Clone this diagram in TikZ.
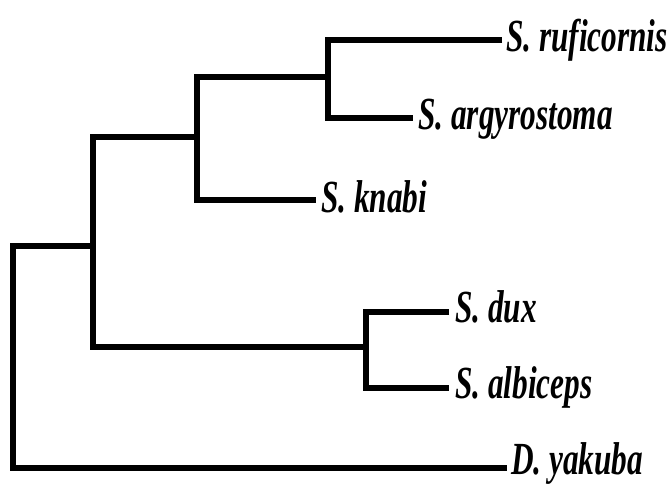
\documentclass[tikz,border=0pt]{standalone}
\usepackage{fontspec}
\setmainfont{Liberation Serif}[FakeStretch=0.68]
\begin{document}
\begin{tikzpicture}[x=1pt,y=-1pt,
  branch/.style={line width=6.8pt, line join=miter, line cap=butt},
  taxon/.style={anchor=base west, inner sep=0pt,
    font=\fontsize{46}{50}\selectfont\bfseries\itshape}]
\useasboundingbox (0,0) rectangle (670,484);

% internal nodes of the tree
\coordinate (nR) at (13,360);
\coordinate (nA) at (93,246);
\coordinate (nB) at (197,137);
\coordinate (nC) at (366,347);
\coordinate (nD) at (328,77);

% tips of the terminal branches
\coordinate (eRuf) at (502,40);
\coordinate (eArg) at (413,118);
\coordinate (eKna) at (316,200);
\coordinate (eDux) at (449,312);
\coordinate (eAlb) at (449,388);
\coordinate (eYak) at (507,468);

% taxon labels
\node[taxon] (lRuf) at (506,52) {S. ruficornis};
\node[taxon] (lArg) at (418,130) {S. argyrostoma};
\node[taxon] (lKna) at (321,212) {S. knabi};
\node[taxon] (lDux) at (455,322) {S. dux};
\node[taxon] (lAlb) at (455,398) {S. albiceps};
\node[taxon] (lYak) at (511,474) {D. yakuba};

% branches
\draw[branch] (eRuf) -| (nD) |- (eArg);
\draw[branch] (nD) -| (nB) |- (eKna);
\draw[branch] (eDux) -| (nC) |- (eAlb);
\draw[branch] (nB) -| (nA) |- (nC);
\draw[branch] (nA) -| (nR) |- (eYak);
\end{tikzpicture}
\end{document}
